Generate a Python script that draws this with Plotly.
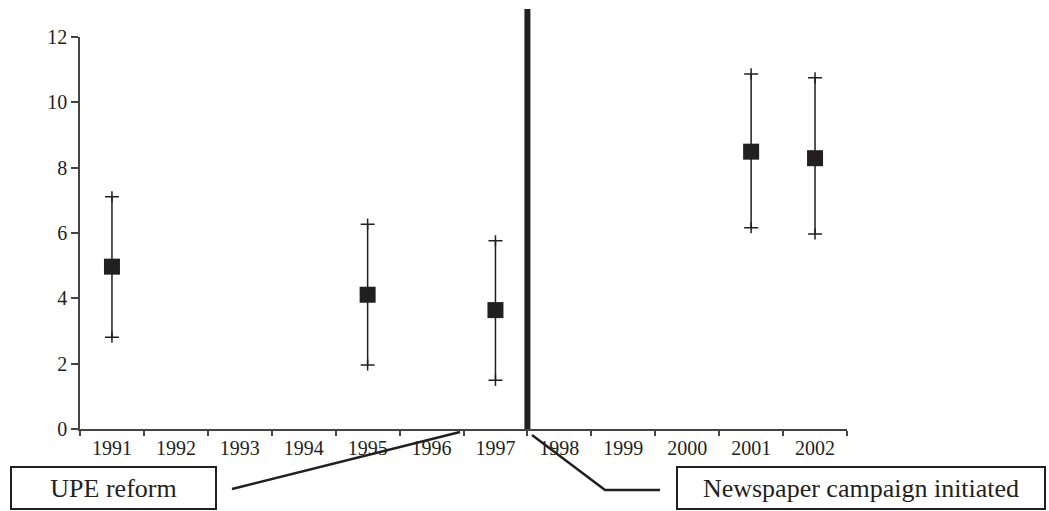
import plotly.graph_objects as go

# ---- data ----
years = ["1991", "1992", "1993", "1994", "1995", "1996",
         "1997", "1998", "1999", "2000", "2001", "2002"]
obs_years = ["1991", "1995", "1997", "2001", "2002"]
means = [4.97, 4.11, 3.64, 8.49, 8.29]
upper = [7.11, 6.27, 5.76, 10.87, 10.75]
lower = [2.81, 1.96, 1.49, 6.16, 5.97]
y_ticks = [0, 2, 4, 6, 8, 10, 12]
break_after = "1997"          # thick line between 1997 and 1998
event_labels = ["UPE reform", "Newspaper campaign initiated"]

INK = "#231f20"
FONT = "Liberation Serif, Times New Roman, serif"

W, H = 1049, 511
L, R, T, B = 80, 1049 - 847, 37, 511 - 429
pw, ph = W - L - R, H - T - B


def px(x):
    return (x - L) / pw


def py(y):
    return (H - B - y) / ph


fig = go.Figure()

fig.add_trace(go.Scatter(
    x=obs_years, y=means, mode="markers",
    marker=dict(symbol="square", size=16, color=INK),
    error_y=dict(type="data", symmetric=False,
                 array=[u - m for u, m in zip(upper, means)],
                 arrayminus=[m - l for m, l in zip(means, lower)],
                 color=INK, thickness=1.5, width=7),
    showlegend=False, cliponaxis=False,
))
# small vertical overshoot at the ends of the error bars ("+" caps)
fig.add_trace(go.Scatter(
    x=obs_years + obs_years, y=upper + lower, mode="markers",
    marker=dict(symbol="line-ns-open", size=8, color=INK,
                line=dict(color=INK, width=1.5)),
    showlegend=False, hoverinfo="skip", cliponaxis=False,
))

# thick vertical break line
xb = (years.index(break_after) + 1) / len(years)
fig.add_shape(type="line", xref="paper", yref="paper",
              x0=xb, x1=xb, y0=0, y1=py(9),
              line=dict(color=INK, width=6))

# leader lines
fig.add_shape(type="line", xref="paper", yref="paper",
              x0=px(232), y0=py(489), x1=px(460), y1=py(432),
              line=dict(color=INK, width=2.5))
fig.add_shape(type="path", xref="paper", yref="paper",
              path=f"M {px(532)} {py(435)} L {px(605)} {py(490)} L {px(660)} {py(490)}",
              line=dict(color=INK, width=2.5))

# boxed labels
fig.add_annotation(xref="paper", yref="paper", x=px(113.5), y=py(488),
                   xanchor="center", yanchor="middle", showarrow=False,
                   text=event_labels[0], font=dict(family=FONT, size=26, color=INK),
                   width=203, height=40, borderpad=0, bordercolor=INK, borderwidth=2,
                   bgcolor="white")
fig.add_annotation(xref="paper", yref="paper", x=px(861), y=py(488),
                   xanchor="center", yanchor="middle", showarrow=False,
                   text=event_labels[1], font=dict(family=FONT, size=26, color=INK),
                   width=366, height=40, borderpad=0, bordercolor=INK, borderwidth=2,
                   bgcolor="white")

fig.update_layout(
    width=W, height=H,
    margin=dict(l=L, r=R, t=T, b=B),
    paper_bgcolor="white", plot_bgcolor="white",
    font=dict(family=FONT, size=20, color=INK),
    xaxis=dict(type="category", categoryorder="array", categoryarray=years,
               range=[-0.5, len(years) - 0.5], tickson="boundaries",
               ticks="outside", ticklen=5, tickcolor="#444", tickwidth=1.5,
               showline=True, linecolor="#444", linewidth=1.5,
               showgrid=False, zeroline=False, fixedrange=True),
    yaxis=dict(range=[0, 12], tickvals=y_ticks, ticks="outside", ticklen=7,
               tickcolor="#444", tickwidth=1.5,
               showline=True, linecolor="#444", linewidth=1.5,
               showgrid=False, zeroline=False, fixedrange=True),
)

fig.write_html("out.html", config={"displayModeBar": False},
               post_script="document.body.style.margin='0';document.body.style.overflow='hidden';")
